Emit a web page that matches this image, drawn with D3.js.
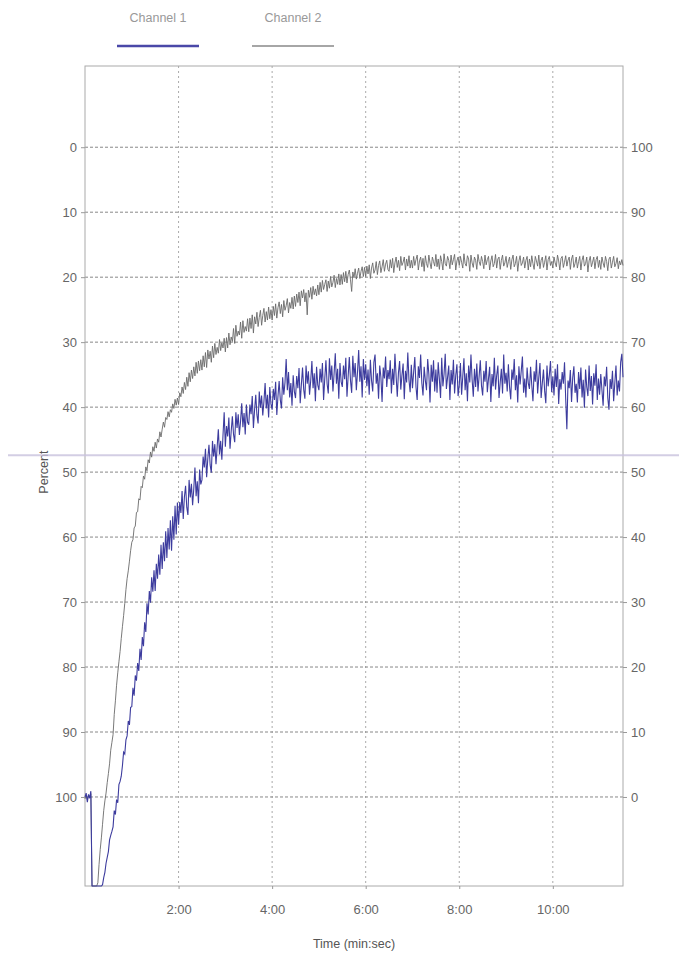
<!DOCTYPE html>
<html>
<head>
<meta charset="utf-8">
<script src="https://cdn.jsdelivr.net/npm/d3@7"></script>
<style>
  body { margin: 0; background: #fff; }
  text { font-family: "Liberation Sans", Arial, sans-serif; }
</style>
</head>
<body>
<div id="chart"></div>
<script>
const width = 679;
const height = 961;

// sample interval of the recorder, minutes (1.5 s)
const step = 0.025;

const timeTicks = [2, 4, 6, 8, 10];
const leftTicks = [0, 10, 20, 30, 40, 50, 60, 70, 80, 90, 100];
const rightTicks = [100, 90, 80, 70, 60, 50, 40, 30, 20, 10, 0];

// Channel 1 (blue), percent on left axis, 20 samples per half minute; 125 = off scale
const channel1 = [
  100, 99.4, 100.8, 99.6, 100.2, 99.1, 125, 125, 125, 125, 125, 125, 125, 125, 125, 113.5, 112.4, 111.6, 110.2, 109.3,
  108.4, 106.6, 105.9, 105.3, 104.6, 102.1, 102.7, 100.4, 100.9, 98.1, 97.6, 96.8, 95.2, 93.1, 93.4, 91.2, 90.6, 88.3, 88.9, 86.2,
  86.1, 83.2, 84.4, 81.3, 82.1, 79.4, 80.6, 77.2, 78.9, 75.4, 76.8, 73.1, 74.6, 70.2, 71.9, 68.3, 70.1, 66.2, 68.4, 65.1,
  68.3, 64.1, 66.4, 62.7, 65.8, 61.2, 64.9, 60.8, 63.7, 59.1, 63.2, 58.6, 61.9, 57.4, 62.1, 56.8, 60.4, 55.2, 59.6, 54.7,
  58.1, 54.6, 56.3, 52.9, 57.2, 53.8, 52.1, 55.4, 56.6, 51.2, 53.9, 51.8, 55.1, 52.6, 49.3, 53.7, 51.4, 54.8, 49.6, 51.9,
  51.2, 47.6, 49.3, 46.4, 50.8, 47.9, 45.8, 48.9, 50.1, 45.2, 47.6, 45.7, 48.8, 46.1, 43.4, 47.3, 45.2, 48.1, 44.3, 40.8,
  46.1, 42.9, 44.5, 41.6, 46.4, 43.7, 41.4, 44.2, 45.4, 40.8, 43.2, 41.1, 44.3, 42.2, 39.4, 43.1, 40.9, 44.2, 39.6, 42.3,
  42.7, 39.6, 41.1, 38.3, 43.2, 40.4, 38.1, 41.2, 42.5, 37.6, 40.1, 38.2, 41.3, 39.1, 36.3, 40.2, 38.1, 41.6, 36.9, 39.5,
  40.4, 37.2, 38.9, 36.1, 41.2, 38.3, 36.0, 38.9, 40.2, 35.4, 38.1, 36.2, 32.6, 37.4, 34.6, 38.5, 36.3, 39.8, 35.1, 37.6,
  38.6, 35.2, 37.1, 34.0, 39.4, 36.5, 33.9, 37.3, 38.7, 33.6, 36.4, 34.5, 38.1, 35.9, 32.9, 37.1, 34.8, 39.1, 33.8, 36.6,
  37.4, 34.1, 36.2, 33.2, 38.9, 35.6, 32.8, 36.4, 37.9, 32.5, 35.8, 33.6, 37.6, 34.8, 31.7, 36.4, 34.1, 38.7, 33.2, 36.1,
  36.9, 33.6, 35.7, 32.4, 38.4, 35.2, 32.3, 35.9, 37.8, 32.1, 35.4, 33.2, 37.4, 34.6, 31.2, 36.1, 33.7, 38.5, 32.6, 35.8,
  33.4, 36.8, 34.2, 38.1, 32.7, 35.9, 37.6, 33.1, 31.9, 36.4, 34.8, 38.7, 33.6, 35.4, 39.2, 33.9, 35.6, 32.2, 36.9, 34.3,
  35.7, 32.8, 37.9, 34.1, 36.6, 31.8, 35.2, 38.4, 34.7, 32.9, 37.3, 35.1, 33.3, 38.8, 34.4, 36.2, 31.6, 35.8, 37.7, 33.5,
  37.1, 34.6, 32.3, 36.9, 38.9, 33.7, 35.5, 31.9, 36.3, 38.2, 33.8, 35.9, 37.4, 32.6, 34.9, 39.3, 33.5, 36.1, 32.8, 37.6,
  34.2, 37.8, 33.1, 35.7, 38.6, 32.4, 36.8, 34.9, 31.8, 37.2, 35.4, 33.6, 38.9, 34.3, 36.5, 32.7, 37.9, 35.1, 33.4, 38.3,
  36.6, 33.2, 38.1, 35.3, 32.5, 37.4, 34.8, 39.1, 33.6, 36.2, 31.9, 35.8, 38.4, 34.1, 36.9, 33.3, 37.6, 35.2, 32.8, 36.7,
  38.2, 34.4, 36.1, 32.9, 37.7, 35.6, 33.8, 39.2, 34.9, 36.8, 32.4, 37.3, 35.1, 33.6, 38.6, 36.2, 34.1, 37.9, 31.9, 36.4,
  34.7, 37.6, 33.4, 36.9, 38.8, 34.2, 35.8, 32.6, 37.4, 35.1, 39.3, 33.7, 36.5, 34.4, 32.2, 37.8, 35.6, 38.5, 33.9, 36.3,
  37.2, 33.8, 36.6, 39.1, 34.5, 36.1, 32.7, 37.9, 35.4, 33.2, 38.6, 36.3, 34.2, 37.5, 39.4, 33.6, 36.8, 35.1, 32.9, 37.7,
  35.3, 38.2, 34.1, 36.9, 33.4, 39.5, 35.7, 37.3, 34.6, 36.4, 33.1, 38.7, 43.4, 35.9, 37.1, 34.3, 39.2, 35.5, 33.7, 37.8,
  36.4, 39.3, 34.6, 37.2, 33.9, 38.5, 35.8, 40.1, 34.2, 36.9, 38.3, 33.6, 37.5, 35.2, 39.6, 34.8, 36.7, 33.4, 38.9, 35.6,
  38.1, 34.9, 37.4, 39.8, 35.3, 36.8, 33.8, 38.6, 40.4, 35.7, 37.2, 34.4, 39.1, 36.3, 33.6, 38.2, 35.9, 37.6, 33.1, 31.8,
  35.4
];

// Channel 2 (gray)
const channel2 = [
  100.3, 99.7, 100.4, 99.8, 100.1, 99.5, 125, 125, 125, 125, 125, 113.2, 110.4, 108.1, 106.3, 104.2, 102.1, 100.6, 99.4, 97.8,
  96.4, 94.9, 92.8, 91.6, 90.4, 87.3, 85.2, 82.8, 80.9, 79.2, 77.6, 75.6, 73.8, 72.1, 70.2, 68.1, 66.4, 65.2, 63.7, 62.1,
  60.8, 60.4, 58.6, 58.3, 56.2, 56.1, 54.1, 54.3, 52.2, 52.4, 50.6, 51.1, 49.2, 49.8, 48.1, 48.6, 46.9, 47.7, 46.1, 46.8,
  45.4, 46.3, 44.9, 45.4, 43.8, 44.6, 43.4, 42.3, 43.1, 41.6, 41.9, 40.7, 41.5, 40.4, 40.8, 39.5, 40.2, 38.8, 39.7, 38.6,
  39.6, 37.8, 38.4, 36.9, 37.9, 36.2, 37.3, 35.4, 36.8, 34.7, 36.1, 34.3, 35.6, 33.8, 35.2, 33.1, 34.8, 32.9, 34.4, 32.7,
  34.3, 32.1, 33.8, 31.6, 33.9, 31.2, 32.6, 31.4, 33.1, 30.6, 32.4, 30.2, 31.9, 30.8, 31.7, 29.6, 31.3, 30.1, 30.9, 29.4,
  31.5, 29.3, 30.9, 28.6, 30.4, 29.2, 29.9, 27.9, 30.2, 27.4, 29.1, 28.3, 28.9, 26.9, 29.4, 26.7, 28.5, 27.6, 28.3, 26.4,
  28.4, 26.3, 27.9, 25.8, 28.6, 26.1, 27.2, 25.4, 27.6, 26.2, 25.1, 27.4, 25.9, 24.8, 26.9, 25.3, 26.6, 24.6, 26.4, 25.0,
  26.6, 24.5, 25.9, 24.1, 26.3, 24.7, 23.8, 25.6, 24.2, 26.1, 23.6, 25.1, 24.4, 23.3, 25.5, 23.9, 24.8, 23.1, 24.9, 22.9,
  24.5, 22.6, 23.9, 22.3, 24.4, 22.1, 23.2, 21.9, 23.8, 22.4, 25.8, 22.0, 23.1, 21.6, 23.4, 21.4, 22.7, 21.8, 22.9, 21.2,
  22.7, 20.8, 22.3, 20.5, 21.9, 21.1, 20.4, 22.2, 20.6, 21.7, 19.9, 21.5, 20.8, 19.7, 21.6, 20.2, 21.1, 19.5, 21.2, 19.6,
  21.1, 19.3, 20.7, 19.1, 20.9, 19.6, 18.9, 20.4, 22.2, 19.2, 20.1, 18.7, 20.3, 19.4, 18.6, 20.2, 19.1, 18.4, 19.9, 18.5,
  19.9, 18.3, 19.5, 18.1, 20.2, 18.6, 17.8, 19.4, 18.9, 17.6, 19.6, 18.2, 17.5, 19.3, 18.4, 17.3, 19.1, 18.0, 17.4, 18.8,
  19.1, 17.3, 18.6, 17.1, 19.3, 17.8, 16.9, 18.5, 17.4, 19.0, 16.8, 18.2, 17.7, 16.9, 18.9, 17.2, 18.3, 16.7, 18.6, 17.4,
  18.6, 16.8, 18.2, 17.3, 16.6, 18.9, 17.5, 16.9, 18.4, 17.1, 19.1, 16.7, 17.9, 18.5, 16.6, 17.8, 18.7, 16.9, 17.6, 18.3,
  16.5, 18.4, 17.2, 18.8, 16.7, 17.6, 18.9, 16.4, 17.9, 18.3, 16.8, 17.4, 18.7, 16.6, 18.1, 17.3, 16.5, 18.9, 17.5, 16.9,
  18.2, 16.8, 17.7, 18.6, 16.4, 17.9, 18.3, 16.7, 17.2, 19.1, 16.6, 17.8, 18.5, 16.9, 17.4, 18.8, 16.5, 17.6, 18.2, 16.8,
  17.6, 18.7, 16.6, 18.1, 17.3, 16.8, 18.9, 17.5, 16.7, 18.4, 17.9, 16.5, 18.6, 17.2, 16.9, 18.8, 17.4, 16.6, 18.3, 17.8,
  16.8, 18.5, 17.6, 16.9, 18.8, 17.3, 16.6, 18.4, 17.9, 16.8, 19.1, 17.5, 16.7, 18.2, 17.8, 16.9, 18.6, 17.4, 16.8, 18.9,
  17.2, 18.4, 16.7, 17.9, 18.8, 16.8, 17.5, 18.3, 16.6, 18.7, 17.4, 16.9, 18.5, 17.7, 16.7, 18.9, 17.3, 16.8, 18.2, 17.6,
  18.6, 16.9, 17.8, 18.4, 16.6, 17.5, 18.9, 17.1, 16.8, 18.5, 17.7, 16.7, 18.3, 17.4, 16.9, 18.8, 17.2, 16.6, 18.5, 17.9,
  16.9, 18.6, 17.6, 16.8, 18.9, 17.4, 16.7, 18.3, 17.9, 16.9, 19.2, 17.5, 16.8, 18.4, 17.7, 16.9, 18.7, 17.3, 16.8, 18.5,
  17.4, 18.8, 16.9, 17.8, 18.5, 16.8, 17.6, 19.0, 17.2, 16.9, 18.6, 17.7, 16.8, 18.4, 17.9, 17.0, 18.7, 17.5, 18.1, 17.3,
  18.2
];

// faint crease across the scanned sheet (left-axis percent)
const crease = 47.4;

const margin = {top: 66, right: 56, bottom: 75, left: 85};
const x = d3.scaleLinear().domain([0, 11.5]).range([margin.left, width - margin.right]);
const yL = d3.scaleLinear().domain([-12.5, 113.7]).range([margin.top, height - margin.bottom]).clamp(true);
const yR = d3.scaleLinear().domain([112.5, -13.7]).range([margin.top, height - margin.bottom]);

const svg = d3.select('#chart').append('svg').attr('width', width).attr('height', height);

// grid
svg.append('g')
  .selectAll('line')
  .data(timeTicks)
  .join('line')
  .attr('x1', d => x(d)).attr('x2', d => x(d))
  .attr('y1', margin.top).attr('y2', height - margin.bottom)
  .attr('stroke', '#aaa').attr('stroke-dasharray', '2,3');

svg.append('g')
  .selectAll('line')
  .data(leftTicks)
  .join('line')
  .attr('x1', margin.left).attr('x2', width - margin.right)
  .attr('y1', d => yL(d)).attr('y2', d => yL(d))
  .attr('stroke', '#888').attr('stroke-dasharray', '3,2');

// frame
svg.append('rect')
  .attr('x', margin.left).attr('y', margin.top)
  .attr('width', width - margin.left - margin.right)
  .attr('height', height - margin.top - margin.bottom)
  .attr('fill', 'none').attr('stroke', '#aaa');

// axes
const leftAxis = svg.append('g')
  .attr('transform', `translate(${margin.left},0)`)
  .call(d3.axisLeft(yL).tickValues(leftTicks).tickSize(4).tickPadding(4));
const rightAxis = svg.append('g')
  .attr('transform', `translate(${width - margin.right},0)`)
  .call(d3.axisRight(yR).tickValues(rightTicks).tickSize(4).tickPadding(4));
const bottomAxis = svg.append('g')
  .attr('transform', `translate(0,${height - margin.bottom})`)
  .call(d3.axisBottom(x).tickValues(timeTicks).tickFormat(d => d + ':00').tickSize(3).tickPadding(16));

[leftAxis, rightAxis, bottomAxis].forEach(a => {
  a.select('.domain').remove();
  a.selectAll('line').attr('stroke', '#999');
  a.selectAll('text').attr('fill', '#666').style('font-size', '13px');
});

svg.append('text')
  .attr('transform', `translate(48,${yL(50)}) rotate(-90)`)
  .attr('text-anchor', 'middle')
  .attr('fill', '#555').style('font-size', '12.5px')
  .text('Percent');

svg.append('text')
  .attr('x', (margin.left + width - margin.right) / 2)
  .attr('y', 948)
  .attr('text-anchor', 'middle')
  .attr('fill', '#555').style('font-size', '12.5px')
  .text('Time (min:sec)');

// crease
svg.append('line')
  .attr('x1', 8).attr('x2', width)
  .attr('y1', yL(crease)).attr('y2', yL(crease))
  .attr('stroke', '#c9c2de').attr('stroke-width', 2).attr('opacity', 0.8);

// traces
const line = d3.line()
  .x((d, i) => x(i * step))
  .y(d => yL(d));

svg.append('path')
  .datum(channel2)
  .attr('d', line)
  .attr('fill', 'none')
  .attr('stroke', '#6a6a6a')
  .attr('stroke-width', 0.9);

svg.append('path')
  .datum(channel1)
  .attr('d', line)
  .attr('fill', 'none')
  .attr('stroke', '#3d3c9e')
  .attr('stroke-width', 1.1);

// legend
const legend = [
  {name: 'Channel 1', color: '#4a48a8', cx: 158, w: 2.5},
  {name: 'Channel 2', color: '#888', cx: 293, w: 1.5}
];
const lg = svg.append('g').selectAll('g').data(legend).join('g');
lg.append('text')
  .attr('x', d => d.cx).attr('y', 22)
  .attr('text-anchor', 'middle')
  .attr('fill', '#999').style('font-size', '12.5px')
  .text(d => d.name);
lg.append('line')
  .attr('x1', d => d.cx - 41).attr('x2', d => d.cx + 41)
  .attr('y1', 46).attr('y2', 46)
  .attr('stroke', d => d.color).attr('stroke-width', d => d.w);
</script>
</body>
</html>
